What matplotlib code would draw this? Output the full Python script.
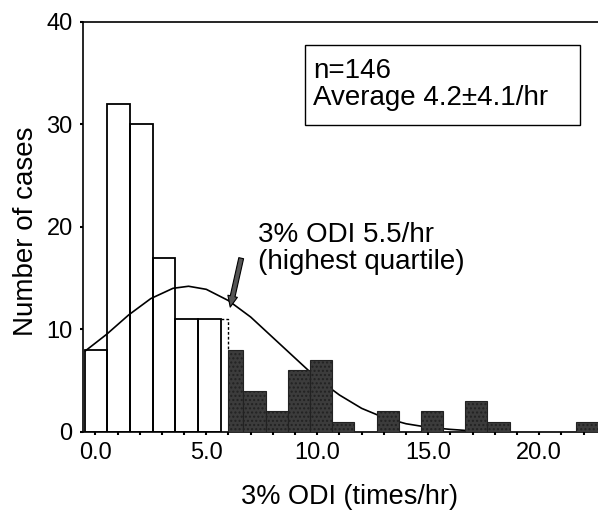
import numpy as np
import matplotlib
matplotlib.use('Agg')
import matplotlib.pyplot as plt
import matplotlib.patches as mpatches

plt.rcParams['font.family'] = ['Liberation Sans', 'DejaVu Sans']

# bins below the 5.5/hr cutoff (white) and the highest quartile (dark)
white_edges = [-0.45, 0.53, 1.55, 2.6, 3.6, 4.63, 5.65]
white_counts = [8, 32, 30, 17, 11, 11]
black_edges = [6.0, 6.67, 7.67, 8.67, 9.67, 10.67, 11.67, 12.67, 13.67, 14.67,
               15.67, 16.67, 17.67, 18.67, 19.67, 20.67, 21.67, 22.67]
black_counts = [8, 4, 2, 6, 7, 1, 0, 2, 0, 2, 0, 3, 1, 0, 0, 0, 1]

# fitted normal curve
curve_x = [-0.45, 0.5, 1.5, 2.5, 3.5, 4.2, 5.0, 6.0, 7.0, 8.0, 9.0, 10.0,
           11.0, 12.0, 13.0, 14.0, 15.0, 16.0, 17.0]
curve_y = [7.9, 9.5, 11.4, 13.0, 14.0, 14.2, 13.9, 12.8, 11.2, 9.2, 7.2, 5.2,
           3.6, 2.3, 1.4, 0.8, 0.45, 0.25, 0.1]

x_labels = ['0.0', '5.0', '10.0', '15.0', '20.0']
y_ticks = [0, 10, 20, 30, 40]

fig = plt.figure(figsize=(5.98, 5.13), dpi=100)
ax = fig.add_axes([0.139, 0.158, 0.861, 0.80])

we = np.array(white_edges)
ax.bar(we[:-1], white_counts, width=np.diff(we), align='edge',
       facecolor='none', edgecolor='black', linewidth=1.3, zorder=1)

ax.plot(curve_x, curve_y, color='black', linewidth=1.2, zorder=2)

be = np.array(black_edges)
ax.bar(be[:-1], black_counts, width=np.diff(be), align='edge',
       facecolor='#3c3c3c', edgecolor='#222222', linewidth=0.8, hatch='....', zorder=3)

# dashed outline between the last white bin and the first dark one
ax.plot([white_edges[-1], black_edges[0], black_edges[0]],
        [white_counts[-1], white_counts[-1], black_counts[0]],
        color='black', linestyle=(0, (2, 1.5)), linewidth=1.0, zorder=4)

ax.annotate('', xy=(6.05, 11.9), xytext=(6.6, 17.2),
            arrowprops=dict(arrowstyle='simple,head_length=0.8,head_width=0.7,tail_width=0.35',
                            facecolor='#555555', edgecolor='black', linewidth=0.8),
            zorder=5)
ax.text(7.34, 17.9, '3% ODI 5.5/hr\n(highest quartile)', fontsize=20,
        ha='left', va='center', linespacing=1.05)

# stats box
ax.add_patch(mpatches.Rectangle((9.46, 29.95), 12.39, 7.8, facecolor='white',
                                edgecolor='black', linewidth=1.0, zorder=6))
ax.text(9.82, 33.85, 'n=146\nAverage 4.2\u00b14.1/hr', fontsize=20,
        ha='left', va='center', linespacing=1.05, zorder=7)

ax.set_xlim(-0.55, 22.65)
ax.set_ylim(0, 40)
ax.set_xticks(range(0, 23))
ax.set_xticklabels([x_labels[i // 5] if i % 5 == 0 else '' for i in range(0, 23)])
ax.set_yticks(y_ticks)
ax.tick_params(axis='both', direction='out', length=2.5, width=1.5, labelsize=17, pad=5)
ax.spines['right'].set_visible(False)
for s in ['left', 'top', 'bottom']:
    ax.spines[s].set_linewidth(1.2)

ax.set_xlabel('3% ODI (times/hr)', fontsize=19.5, va='center')
ax.xaxis.set_label_coords(0.518, -0.158)
ax.set_ylabel('Number of cases', fontsize=20, va='center')
ax.yaxis.set_label_coords(-0.11, 0.49)

fig.savefig('out.png', dpi=100)
